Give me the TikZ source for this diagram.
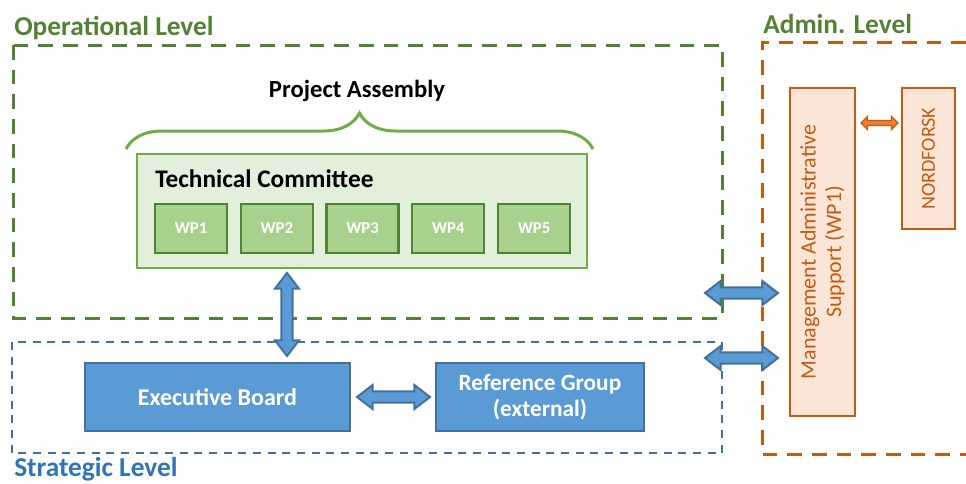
\documentclass[tikz,border=0pt]{standalone}
\usepackage{fontspec}
\setmainfont{Carlito}
\usepackage{tikz}
\usetikzlibrary{calc,shapes.arrows,decorations.pathreplacing}
\definecolor{Op_green}{RGB}{84, 130, 53}
\definecolor{TC_fill}{RGB}{226, 239, 218}
\definecolor{TC_line}{RGB}{112, 173, 71}
\definecolor{WP_fill}{RGB}{169, 209, 142}
\definecolor{Board_blue}{RGB}{91, 155, 213}
\definecolor{Board_line}{RGB}{65, 113, 156}
\definecolor{St_blue}{RGB}{46, 117, 182}
\definecolor{Admin_orange}{RGB}{197, 90, 17}
\definecolor{Admin_fill}{RGB}{251, 229, 214}
\definecolor{Link_orange}{RGB}{237, 125, 49}
\tikzset{
    level label/.style={font=\bfseries\fontsize{20.5}{24}\selectfont, inner sep=0pt, anchor=base west},
    op frame/.style={draw=Op_green, line width=2.25pt, dash pattern=on 11pt off 7.5pt},
    st frame/.style={draw=Board_line, line width=1.5pt, dash pattern=on 6pt off 5pt},
    ad frame/.style={draw=Admin_orange, line width=2.25pt, dash pattern=on 11pt off 7.5pt},
    wp box/.style={draw=Op_green, fill=WP_fill, line width=1.75pt, text=white,
        font=\bfseries\fontsize{12.5}{15}\selectfont, minimum width=54pt, minimum height=36.75pt},
    board box/.style={draw=Board_line, fill=Board_blue, line width=1.5pt, text=white,
        font=\bfseries\fontsize{17.5}{19}\selectfont, minimum height=51pt, align=center},
    admin box/.style={draw=Admin_orange, fill=Admin_fill, line width=1.5pt, text=Admin_orange,
        rotate=90, inner sep=0pt, align=center},
    blue link/.style={double arrow, draw=Board_line, fill=Board_blue, line width=1.5pt,
        inner xsep=0pt, inner ysep=3.4pt, double arrow head extend=4.85pt, double arrow tip angle=75},
    orange link/.style={double arrow, draw=Admin_orange, fill=Link_orange, line width=1pt,
        inner xsep=0pt, inner ysep=1.4pt, double arrow head extend=3pt, double arrow tip angle=90}
}

\begin{document}
\begin{tikzpicture}[x=0.75pt, y=-0.75pt]
    \useasboundingbox (0,0) rectangle (966,483);

    %% Levels
    \draw[op frame] (13,45) rectangle (722,318);
    \draw[st frame] (12,342) rectangle (722,453);
    \draw[ad frame] (966,42) -- (762,42) -- (762,454) -- (966,454);
    \node[level label, text=Op_green] (op_label) at (14,35) {Operational Level};
    \node[level label, text=Op_green] (ad_label) at (763,33) {Admin. Level};
    \node[level label, text=St_blue] (st_label) at (14,476) {Strategic Level};

    %% Operational level
    \node[font=\bfseries\fontsize{18.5}{22}\selectfont, anchor=base] (pa) at (357,97) {Project Assembly};
    \draw[TC_line, line width=2.25pt, decorate, decoration={brace, amplitude=27pt}] (126,149) -- (593,149);
    \node[draw=TC_line, fill=TC_fill, line width=1.5pt, minimum width=337.5pt, minimum height=85.5pt] (tc) at (362,211) {};
    \node[font=\bfseries\fontsize{19}{22}\selectfont, anchor=base west, inner sep=0pt] (tc_label) at (155,187) {Technical Committee};
    \foreach \i in {1,...,5}
        \node[wp box] (wp\i) at ({105.25+85.75*\i},228.5) {WP\i};

    %% Strategic level
    \node[board box, minimum width=198.75pt, font=\bfseries\fontsize{18}{20}\selectfont] (eb) at (217.5,397) {Executive Board};
    \node[board box, minimum width=156pt] (rg) at (540,397) {Reference Group\\(external)};

    %% Admin level
    \node[admin box, minimum width=246pt, minimum height=48.75pt, font=\fontsize{16.5}{19}\selectfont] (mas) at (822.5,252)
        {Management Administrative\\Support (WP1)};
    \node[admin box, minimum width=105.75pt, minimum height=39.75pt, font=\fontsize{15}{18}\selectfont] (nf) at (928.5,158.5) {NORDFORSK};

    %% Links
    \coordinate (tc_end) at (287,273);
    \coordinate (eb_end) at (287,356);
    \path (tc_end) -- (eb_end) node[blue link, midway, sloped, minimum height=62.25pt] (tc_eb) {};
    \path ($(eb.east)+(7,0)$) -- ($(rg.west)+(-6,0)$) node[blue link, midway, sloped, minimum height=54.75pt] (eb_rg) {};
    \coordinate (op_end) at (705,293);
    \coordinate (mas_op) at (778,293);
    \coordinate (st_end) at (705,358);
    \coordinate (mas_st) at (778,358);
    \path (op_end) -- (mas_op) node[blue link, midway, sloped, minimum height=54.75pt] (op_mas) {};
    \path (st_end) -- (mas_st) node[blue link, midway, sloped, minimum height=54.75pt] (st_mas) {};
    \coordinate (mas_nf) at (861,123);
    \coordinate (nf_mas) at (898,123);
    \path (mas_nf) -- (nf_mas) node[orange link, midway, sloped, minimum height=27.75pt] (link_nf) {};

\end{tikzpicture}
\end{document}
